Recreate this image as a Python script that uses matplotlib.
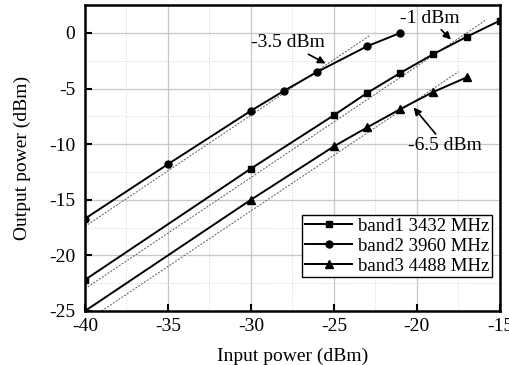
import numpy as np
import matplotlib
matplotlib.use('Agg')
import matplotlib.pyplot as plt
from matplotlib.ticker import MultipleLocator

plt.rcParams['font.family'] = ['Liberation Serif', 'DejaVu Serif']
plt.rcParams['axes.unicode_minus'] = False

# measured points
x1 = [-40, -30, -25, -23, -21, -19, -17, -15]
y1 = [-22.2, -12.2, -7.4, -5.4, -3.6, -1.9, -0.35, 1.1]
x2 = [-40, -35, -30, -28, -26, -23, -21]
y2 = [-16.7, -11.8, -7.0, -5.2, -3.5, -1.2, 0.0]
x3 = [-40, -30, -25, -23, -21, -19, -17]
y3 = [-25.0, -15.0, -10.2, -8.5, -6.85, -5.3, -4.0]
labels = ['band1 3432 MHz', 'band2 3960 MHz', 'band3 4488 MHz']

# ideal linear (slope 1) reference lines: (x start, x end, offset)
ref1 = (-40, -15.8, 17.0)
ref2 = (-40, -22.8, 22.6)
ref3 = (-39, -17.5, 14.0)

fig = plt.figure(figsize=(5.09, 3.65), dpi=100)
ax = fig.add_axes([0.167, 0.148, 0.815, 0.838])

for r in [ref1, ref2, ref3]:
    xr = np.array([r[0], r[1]])
    ax.plot(xr, xr + r[2], color='0.35', lw=0.7, ls=(0, (2, 1.5)), zorder=2)

ax.plot(x1, y1, 'k-s', lw=1.4, ms=5, label=labels[0], zorder=3)
ax.plot(x2, y2, 'k-o', lw=1.4, ms=5, label=labels[1], zorder=3)
ax.plot(x3, y3, 'k-^', lw=1.4, ms=5.5, label=labels[2], zorder=3)

ax.set_xlim(-40, -15)
ax.set_ylim(-25, 2.5)
ax.xaxis.set_major_locator(MultipleLocator(5))
ax.xaxis.set_minor_locator(MultipleLocator(2.5))
ax.yaxis.set_major_locator(MultipleLocator(5))
ax.yaxis.set_minor_locator(MultipleLocator(2.5))
ax.grid(which='major', color='0.78', lw=0.9)
ax.grid(which='minor', color='0.82', lw=0.7, ls=':')
ax.set_axisbelow(True)
ax.tick_params(which='major', direction='in', length=5, width=1.5, labelsize=14)
ax.tick_params(axis='y', pad=7)
ax.tick_params(axis='x', pad=5)
ax.tick_params(which='minor', length=0)
for s in ax.spines.values():
    s.set_linewidth(1.8)

ax.set_xlabel('Input power (dBm)', fontsize=14, labelpad=9)
ax.set_ylabel('Output power (dBm)', fontsize=14, labelpad=13)

arrow = dict(arrowstyle='-|>', color='k', lw=1.2, mutation_scale=11, shrinkA=0, shrinkB=0)
ax.annotate('-3.5 dBm', xy=(-25.5, -2.75), xytext=(-27.8, -0.9), fontsize=14,
            ha='center', va='center', arrowprops=arrow)
ax.annotate('-1 dBm', xy=(-17.95, -0.6), xytext=(-19.2, 1.3), fontsize=14,
            ha='center', va='center', arrowprops=arrow)
ax.annotate('-6.5 dBm', xy=(-20.2, -6.7), xytext=(-18.3, -10.1), fontsize=14,
            ha='center', va='center', arrowprops=arrow)

leg = ax.legend(loc='lower right', bbox_to_anchor=(0.981, 0.11), fontsize=13.5,
                fancybox=False, edgecolor='k', framealpha=1, borderpad=0.15,
                labelspacing=0.15, handlelength=2.5, handletextpad=0.3,
                borderaxespad=0)
leg.get_frame().set_linewidth(1.0)

fig.savefig('out.png', dpi=100)
